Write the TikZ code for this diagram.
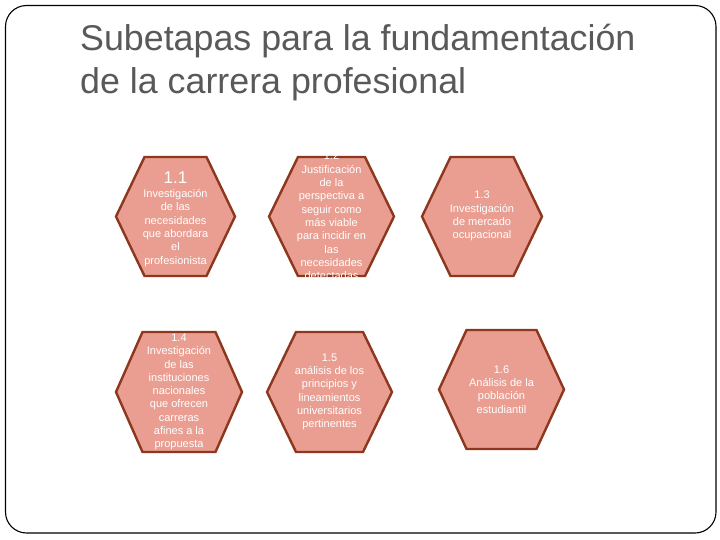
\documentclass[tikz,border=0pt]{standalone}
\usepackage{fontspec}
\setmainfont{Liberation Sans}
\definecolor{hexfill}{RGB}{233,158,145}
\definecolor{hexline}{RGB}{140,55,30}
\definecolor{titlegray}{RGB}{89,89,89}
\newcommand\hexpath[5]{%
  \draw[hexshape] ({#1-#3/2},#2) -- ({#1-#5/2},{#2-#4/2}) -- ({#1+#5/2},{#2-#4/2})
    -- ({#1+#3/2},#2) -- ({#1+#5/2},{#2+#4/2}) -- ({#1-#5/2},{#2+#4/2}) -- cycle;}
\begin{document}
\begin{tikzpicture}[x=1pt,y=-1pt,
  hexshape/.style={fill=hexfill,draw=hexline,line width=2.4pt,line join=miter},
  hextext/.style={text=white,align=center,inner sep=0pt,
    font=\fontsize{11}{13.3}\selectfont},
  titletext/.style={text=titlegray,anchor=base west,inner sep=0pt,
    font=\fontsize{35.8}{42}\selectfont},
  frame/.style={draw=black,line width=1.1pt,rounded corners=21pt}]
\useasboundingbox (0,0) rectangle (720,540);
\draw[frame] (5.5,5.5) rectangle (716,533);
\node[titletext] (t1) at (80,51) {Subetapas para la fundamentación};
\node[titletext] (t2) at (80,94) {de la carrera profesional};
% row 1
\hexpath{175.5}{216.5}{119}{119}{62}
\hexpath{331.5}{216.5}{125}{119}{67}
\hexpath{482}{216.5}{120}{119}{63}
% row 2
\hexpath{179}{392}{126}{120}{73}
\hexpath{329.5}{392}{125}{120}{67}
\hexpath{501.5}{389.5}{125}{119}{70}
\node[hextext] (h1) at (175.5,219) {{\fontsize{17}{17}\selectfont 1.1}\\[1pt]Investigación\\de las\\necesidades\\que abordara\\el\\profesionista};
\node[hextext] (h2) at (331.5,216) {1.2\\Justificación\\de la\\perspectiva a\\seguir como\\más viable\\para incidir en\\las\\necesidades\\detectadas};
\node[hextext] (h3) at (482,216) {1.3\\Investigación\\de mercado\\ocupacional};
\node[hextext] (h4) at (179,392) {1.4\\Investigación\\de las\\instituciones\\nacionales\\que ofrecen\\carreras\\afines a la\\propuesta};
\node[hextext] (h5) at (329.5,392) {1.5\\análisis de los\\principios y\\lineamientos\\universitarios\\pertinentes};
\node[hextext] (h6) at (501.5,389.5) {1.6\\Análisis de la\\población\\estudiantil};
\end{tikzpicture}
\end{document}
